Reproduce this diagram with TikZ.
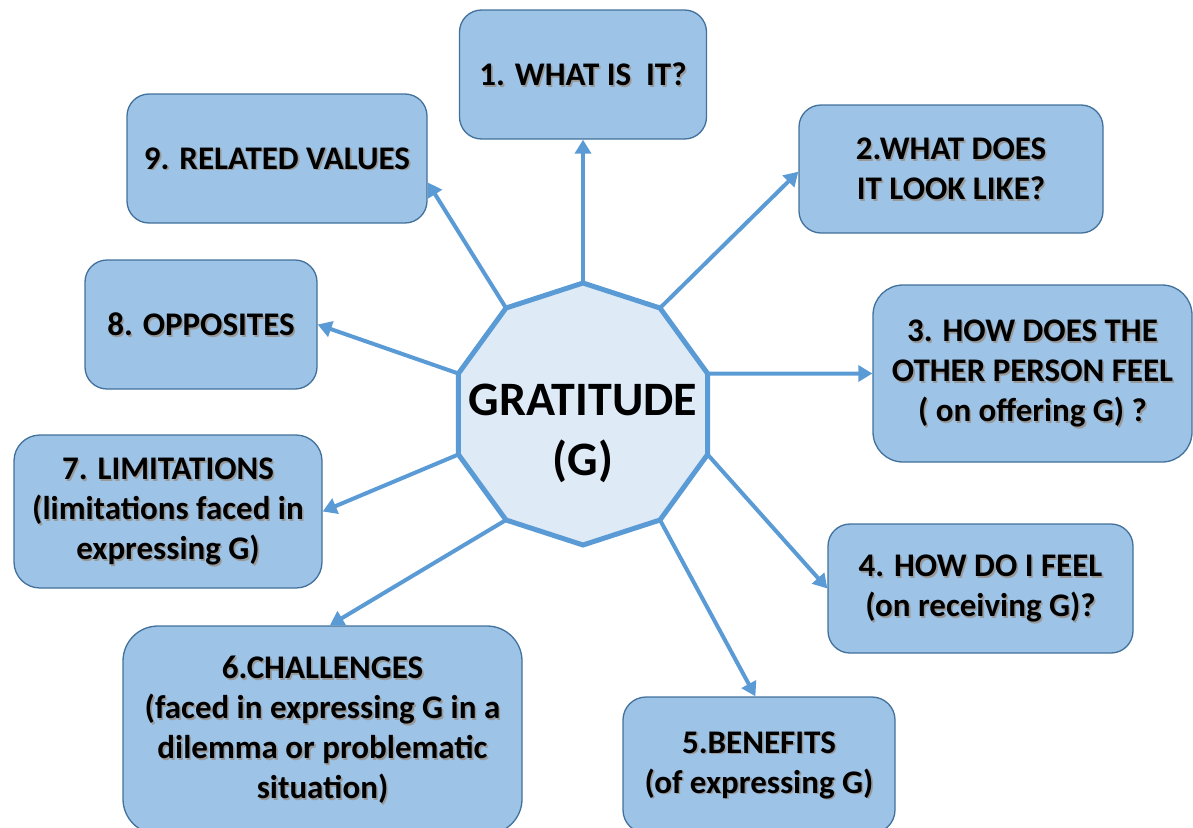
\documentclass[tikz,border=0pt]{standalone}
\usepackage{fontspec}
\setmainfont{Carlito}
\usetikzlibrary{arrows.meta,calc}
\definecolor{boxfill}{HTML}{9DC3E6}
\definecolor{boxline}{HTML}{41719C}
\definecolor{linkblue}{HTML}{5B9BD5}
\definecolor{hubfill}{HTML}{DEEBF7}

% name, centre x, centre y, width, height, corner radius, text
\newcommand\topicbox[7]{%
  \node[topic, minimum width=#4pt, minimum height=#5pt, rounded corners=#6pt] (#1) at (#2,#3) {};
  \node[boxshade] at ($(#1)+(1.6,1.6)$) {#7};
  \node[boxtext] (#1t) at (#1) {#7};}

\begin{document}
\begin{tikzpicture}[x=1pt,y=-1pt,
  topic/.style={draw=boxline, line width=1.3pt, fill=boxfill, inner sep=0pt},
  boxtext/.style={font=\bfseries\fontsize{33}{40}\selectfont, align=center, inner sep=0pt, text=black},
  boxshade/.style={boxtext, text=black!40},
  hubtext/.style={font=\bfseries\fontsize{48}{60}\selectfont, align=center, inner sep=0pt},
  link/.style={draw=linkblue, line width=4pt, -{Triangle[length=14pt,width=16pt]}},
  hub/.style={draw=linkblue, fill=hubfill, line width=5pt, line join=miter}]
\useasboundingbox (0,0) rectangle (1193,827);
\clip (0,0) rectangle (1193,827);

% topic boxes
\topicbox{b1}{583}{74.5}{247}{129}{22}{1. WHAT IS~ IT?}
\topicbox{b2}{951}{169}{304}{128}{22}{2.WHAT DOES\\IT LOOK LIKE?}
\topicbox{b3}{1032.5}{373.5}{319}{177}{30}{3. HOW DOES THE\\OTHER PERSON FEEL\\( on offering G) ?}
\topicbox{b4}{980.5}{588.5}{305}{129}{22}{4. HOW DO I FEEL\\(on receiving G)?}
\topicbox{b5}{759}{765}{272}{136}{23}{5.BENEFITS\\(of expressing G)}
\topicbox{b6}{322.5}{730}{399}{208}{35}{6.CHALLENGES\\(faced in expressing G in a\\dilemma or problematic\\situation)}
\topicbox{b7}{168}{511.5}{308}{153}{26}{7. LIMITATIONS\\(limitations faced in\\expressing G)}
\topicbox{b8}{201}{324.5}{232}{129}{22}{8. OPPOSITES}
\topicbox{b9}{277}{158.5}{300}{129}{22}{9. RELATED VALUES}

% corners of the central decagon
\foreach \i in {0,...,9}
  \coordinate (v\i) at ($(583,414)+({90-36*\i}:131pt)$);

% spokes
\draw[link] (v0) -- (b1.south);
\draw[link] (v1) -- (b2.181);
\draw[link] (v2) -- (b3.west);
\draw[link] (v3) -- (b4.west);
\draw[link] (v4) -- (b5.93);
\draw[link] (v6) -- (b6.86);
\draw[link] (v7) -- (b7.east);
\draw[link] (v8) -- (b8.east);
\draw[link] (v9) -- (b9.351);

% central decagon
\draw[hub] (v0) -- (v1) -- (v2) -- (v3) -- (v4) -- (v5) -- (v6) -- (v7) -- (v8) -- (v9) -- cycle;
\node[hubtext] (hubt) at (583,433) {GRATITUDE\\(G)};
\end{tikzpicture}
\end{document}
